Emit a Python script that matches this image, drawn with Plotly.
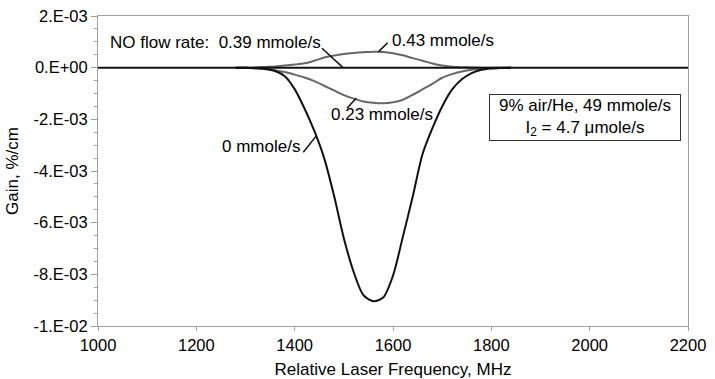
import plotly.graph_objects as go

# Gain spectra at several NO flow rates (gain in %/cm, frequency in MHz)
freq = [1280, 1300, 1320, 1340, 1360, 1380, 1400, 1420, 1440, 1460, 1480,
        1500, 1520, 1540, 1560, 1580, 1600, 1620, 1640, 1660, 1680, 1700,
        1720, 1740, 1760, 1780, 1800, 1820, 1840]

gain_0 = [0.0, 0.0, -0.02e-3, -0.05e-3, -0.13e-3, -0.33e-3, -0.83e-3,
          -1.58e-3, -2.45e-3, -3.50e-3, -4.95e-3, -6.60e-3, -7.91e-3,
          -8.81e-3, -9.04e-3, -8.90e-3, -8.05e-3, -6.55e-3, -5.00e-3,
          -3.35e-3, -2.35e-3, -1.50e-3, -0.85e-3, -0.45e-3, -0.21e-3,
          -0.08e-3, -0.03e-3, -0.01e-3, 0.0]

gain_023 = [0.0, 0.0, -0.02e-3, -0.05e-3, -0.10e-3, -0.17e-3, -0.27e-3,
            -0.38e-3, -0.52e-3, -0.70e-3, -0.88e-3, -1.06e-3, -1.20e-3,
            -1.31e-3, -1.36e-3, -1.38e-3, -1.34e-3, -1.24e-3, -1.05e-3,
            -0.84e-3, -0.63e-3, -0.39e-3, -0.25e-3, -0.15e-3, -0.08e-3,
            -0.04e-3, -0.01e-3, 0.0, 0.0]

gain_043 = [0.0, 0.0, 0.01e-3, 0.03e-3, 0.05e-3, 0.08e-3, 0.12e-3, 0.17e-3,
            0.27e-3, 0.39e-3, 0.47e-3, 0.53e-3, 0.57e-3, 0.60e-3, 0.62e-3,
            0.61e-3, 0.56e-3, 0.48e-3, 0.37e-3, 0.27e-3, 0.16e-3, 0.08e-3,
            0.04e-3, 0.02e-3, 0.01e-3, 0.0, 0.0, 0.0, 0.0]

freq_flat = [1000, 2200]
gain_039 = [0.0, 0.0]

x_ticks = [1000, 1200, 1400, 1600, 1800, 2000, 2200]
y_ticks = [0.002, 0.0, -0.002, -0.004, -0.006, -0.008, -0.01]
y_ticklabels = ["2.E-03", "0.E+00", "-2.E-03", "-4.E-03", "-6.E-03",
                "-8.E-03", "-1.E-02"]

FONT = "Liberation Sans, Arial, sans-serif"
BLACK = "#111111"
GRAY = "#666666"
AXIS = "#a0a0a0"

fig = go.Figure()
fig.add_trace(go.Scatter(x=freq, y=gain_043, mode="lines",
                         line=dict(color=GRAY, width=2, shape="spline",
                                   smoothing=0.8),
                         name="0.43 mmole/s"))
fig.add_trace(go.Scatter(x=freq, y=gain_023, mode="lines",
                         line=dict(color=GRAY, width=2, shape="spline",
                                   smoothing=0.8),
                         name="0.23 mmole/s"))
fig.add_trace(go.Scatter(x=freq_flat, y=gain_039, mode="lines",
                         line=dict(color=BLACK, width=2), name="0.39 mmole/s"))
fig.add_trace(go.Scatter(x=freq, y=gain_0, mode="lines",
                         line=dict(color=BLACK, width=2, shape="spline",
                                   smoothing=0.8),
                         name="0 mmole/s"))

txt = dict(family=FONT, size=17, color="#000000")


def leader(x0, y0, x1, y1):
    fig.add_shape(type="line", xref="x", yref="y", x0=x0, y0=y0, x1=x1, y1=y1,
                  line=dict(color=BLACK, width=1.5))


fig.add_annotation(x=1020, y=0.98e-3,
                   text="NO flow rate:&nbsp; 0.39 mmole/s",
                   showarrow=False, xanchor="left", yanchor="middle", font=txt)
leader(1455.6, 0.75e-3, 1498.3, 0.0)

fig.add_annotation(x=1594, y=1.045e-3, text="0.43 mmole/s",
                   showarrow=False, xanchor="left", yanchor="middle", font=txt)
leader(1589, 0.968e-3, 1570.7, 0.62e-3)

fig.add_annotation(x=1470, y=-1.83e-3, text="0.23 mmole/s",
                   showarrow=False, xanchor="left", yanchor="middle", font=txt)
leader(1506.5, -1.57e-3, 1525.4, -1.17e-3)

fig.add_annotation(x=1414, y=-3.06e-3, text="0 mmole/s",
                   showarrow=False, xanchor="right", yanchor="middle", font=txt)
leader(1417.6, -3.275e-3, 1444.8, -2.62e-3)

fig.add_annotation(x=1991.5, y=-1.93e-3,
                   text="9% air/He, 49 mmole/s<br>I<sub>2</sub> = 4.7 μmole/s",
                   showarrow=False, xanchor="center", yanchor="middle",
                   align="center", font=txt, bgcolor="#ffffff",
                   bordercolor="#333333", borderwidth=1, borderpad=2,
                   width=186, height=41)

fig.update_xaxes(range=[1000, 2200], tickvals=x_ticks,
                 ticks="outside", ticklen=4, tickcolor=AXIS,
                 showline=True, linecolor=AXIS, linewidth=1, mirror=True,
                 showgrid=False, zeroline=False,
                 tickfont=dict(family=FONT, size=16.5, color="#000000"),
                 title=dict(text="Relative Laser Frequency, MHz",
                            font=dict(family=FONT, size=17, color="#000000"),
                            standoff=10))
fig.update_yaxes(range=[-0.01, 0.002], tickvals=y_ticks, ticktext=y_ticklabels,
                 ticks="outside", ticklen=6, tickcolor=AXIS,
                 minor=dict(tickmode="linear", tick0=0, dtick=0.0005,
                            ticks="outside", ticklen=3, tickcolor=AXIS),
                 showline=True, linecolor=AXIS, linewidth=1, mirror=True,
                 showgrid=False, zeroline=False,
                 tickfont=dict(family=FONT, size=16.5, color="#000000"),
                 title=dict(text="Gain, %/cm",
                            font=dict(family=FONT, size=17, color="#000000"),
                            standoff=10))

fig.update_layout(width=715, height=379,
                  margin=dict(l=98, r=27, t=16, b=53, autoexpand=False),
                  plot_bgcolor="#ffffff", paper_bgcolor="#ffffff",
                  showlegend=False)

fig.write_html("out.html")
